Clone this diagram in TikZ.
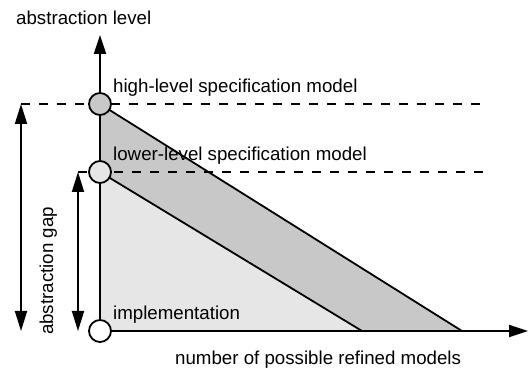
\documentclass[tikz,border=0pt]{standalone}
\usepackage{fontspec}
\setmainfont{Liberation Sans}
\usetikzlibrary{arrows.meta}
\definecolor{darkfill}{HTML}{C8C8C8}
\definecolor{lightfill}{HTML}{E6E6E6}
\begin{document}
\begin{tikzpicture}[x=1pt,y=-1pt,
  lbl/.style={anchor=base west,inner sep=0pt,font=\fontsize{18.7}{20}\selectfont},
  dot/.style={circle,draw,line width=1.8pt,minimum size=22pt,inner sep=0pt},
  axis/.style={line width=1.8pt,-{Triangle[length=19pt,width=12pt]}},
  dim/.style={line width=1.8pt,{Triangle[length=20pt,width=12pt]}-{Triangle[length=20pt,width=12pt]}},
  dline/.style={line width=1.8pt,dash pattern=on 9pt off 9pt},
  edge/.style={line width=1.8pt}]
\useasboundingbox (0,0) rectangle (528,371);
% key points
\coordinate (H) at (100,104);
\coordinate (L) at (100,172);
\coordinate (O) at (100,331);
\coordinate (hx) at (462,331);
\coordinate (lx) at (362,331);
\coordinate (ytip) at (100,35);
\coordinate (xtip) at (528,331);
\coordinate (hend) at (485,104);
\coordinate (lend) at (487,172);
\coordinate (hstart) at (21,104);
\coordinate (lstart) at (78,172);
\coordinate (hbot) at (21,331);
\coordinate (lbot) at (78,331);
% fills
\fill[darkfill] (H) -- (hx) -- (lx) -- (L) -- cycle;
\fill[lightfill] (L) -- (lx) -- (O) -- cycle;
% edges
\draw[edge] (H) -- (hx);
\draw[edge] (L) -- (lx);
% axes
\draw[axis] (O) -- (ytip);
\draw[axis] (O) -- (xtip);
% dashed levels
\draw[dline] (hstart) -- (hend);
\draw[dline] (lstart) -- (lend);
% dimension arrows
\draw[dim] (hstart) -- (hbot);
\draw[dim] (lstart) -- (lbot);
% circles
\node[dot,fill=darkfill] (hi) at (H) {};
\node[dot,fill=lightfill] (lo) at (L) {};
\node[dot,fill=white] (impl) at (O) {};
% labels
\node[lbl] (tabs) at (16,25) {abstraction level};
\node[lbl] (thi) at (113,93) {high-level specification model};
\node[lbl] (tlo) at (113,161) {lower-level specification model};
\node[lbl] (timp) at (113,320) {implementation};
\node[lbl] (tnum) at (175,365) {number of possible refined models};
\node[anchor=base,inner sep=0pt,rotate=90,font=\fontsize{18.7}{20}\selectfont] (tgap) at (53,271) {abstraction gap};
\end{tikzpicture}
\end{document}
